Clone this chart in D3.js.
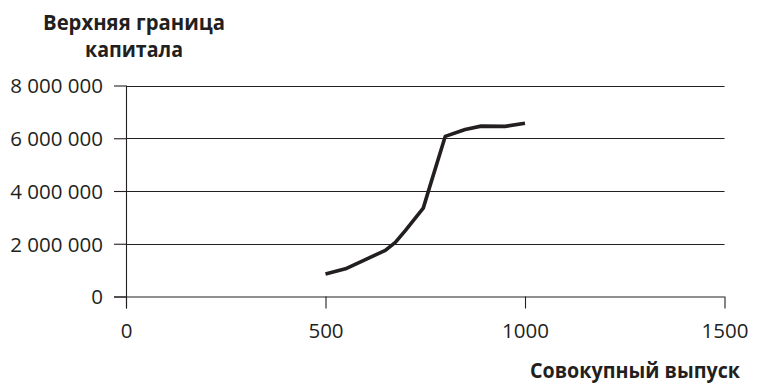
<!DOCTYPE html>
<html>
<head>
<meta charset="utf-8">
<script src="https://cdn.jsdelivr.net/npm/d3@7"></script>
<style>
  html, body { margin: 0; padding: 0; background: #fff; }
  svg { display: block; }
  text { font-family: "Open Sans", "Noto Sans", sans-serif; fill: #231f20; }
</style>
</head>
<body>
<svg id="chart" width="757" height="385"></svg>
<script>
// Total output (x) and upper bound of capital (y)
const outputValues = [500, 550, 600, 650, 675, 700, 745, 760, 800, 850, 890, 950, 1000];
const capitalValues = [850000, 1050000, 1400000, 1750000, 2050000, 2500000, 3350000, 4100000, 6070000, 6330000, 6460000, 6450000, 6570000];
const xTicks = [0, 500, 1000, 1500];
const yTicks = [0, 2000000, 4000000, 6000000, 8000000];
const titleLines = ["Верхняя граница", "капитала"];
const xTitle = "Совокупный выпуск";

const svg = d3.select("#chart");
const x = d3.scaleLinear().domain([0, 1500]).range([126, 724.5]);
const y = d3.scaleLinear().domain([0, 8000000]).range([296.5, 85.5]);

const ru = d3.formatLocale({ decimal: ",", thousands: "\u00a0", grouping: [3], currency: ["", ""] });
const fmt = ru.format(",d");

// horizontal grid lines
svg.append("g")
  .selectAll("line")
  .data(yTicks.filter(d => d > 0))
  .join("line")
  .attr("x1", x(0)).attr("x2", x(1500))
  .attr("y1", d => Math.round(y(d)) + 0.5).attr("y2", d => Math.round(y(d)) + 0.5)
  .attr("stroke", "#231f20").attr("stroke-width", 1.1);

// y axis
const yAxis = svg.append("g")
  .attr("transform", `translate(${x(0)},0)`)
  .call(d3.axisLeft(y).tickValues(yTicks).tickFormat(fmt).tickSize(12).tickPadding(11));
yAxis.selectAll("text").style("font-size", "20.5px").attr("dy", "0.36em");

// x axis
const xAxis = svg.append("g")
  .attr("transform", `translate(0,${y(0)})`)
  .call(d3.axisBottom(x).tickValues(xTicks).tickFormat(d => d).tickSize(12).tickPadding(15));
xAxis.selectAll("text").style("font-size", "20.5px");

svg.selectAll(".domain").attr("stroke", "#231f20").attr("stroke-width", 1.1);
svg.selectAll(".tick line").attr("stroke", "#231f20").attr("stroke-width", 1.1);
xAxis.select(".domain").attr("d", `M${x(0) - 12},0.5H${x(1500)}`);
yAxis.select(".domain").attr("d", `M0.5,${y(8000000)}V${y(0) + 12}`);

// data line
const points = outputValues.map((v, i) => [v, capitalValues[i]]);
svg.append("path")
  .datum(points)
  .attr("fill", "none")
  .attr("stroke", "#231f20")
  .attr("stroke-width", 3.6)
  .attr("stroke-linejoin", "round")
  .attr("d", d3.line().x(d => x(d[0])).y(d => y(d[1])));

// axis titles (bold, set narrow)
const titleWidths = [182, 98];
svg.append("g")
  .selectAll("text")
  .data(titleLines)
  .join("text")
  .attr("x", 134)
  .attr("y", (d, i) => 30 + i * 27)
  .attr("text-anchor", "middle")
  .attr("textLength", (d, i) => titleWidths[i])
  .attr("lengthAdjust", "spacingAndGlyphs")
  .style("font-size", "20.5px").style("font-weight", "bold")
  .text(d => d);

svg.append("text")
  .attr("x", 740).attr("y", 378)
  .attr("text-anchor", "end")
  .attr("textLength", 210)
  .attr("lengthAdjust", "spacingAndGlyphs")
  .style("font-size", "20.5px").style("font-weight", "bold")
  .text(xTitle);
</script>
</body>
</html>
